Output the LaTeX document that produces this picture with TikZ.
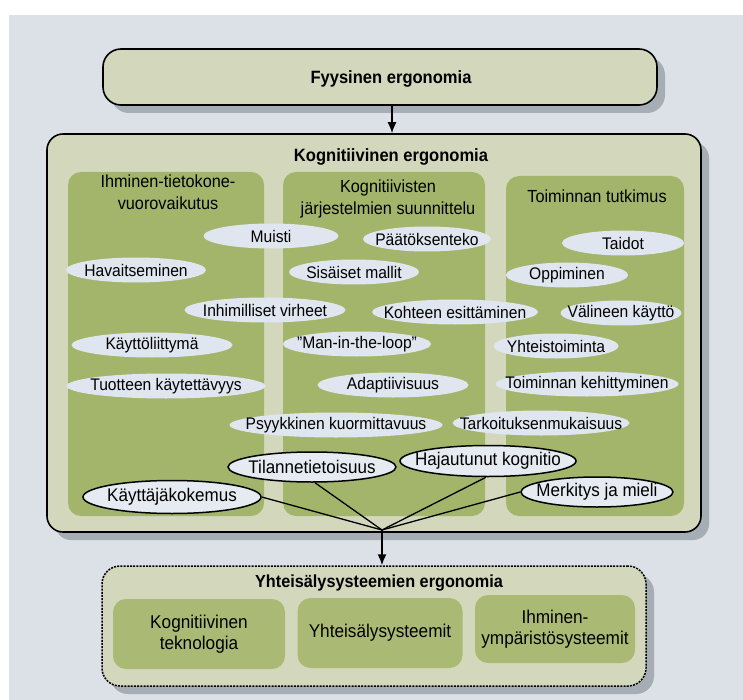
\documentclass[tikz,border=0pt]{standalone}
\usepackage{fontspec}
\setmainfont{Liberation Sans}[FakeStretch=0.93]
\usetikzlibrary{arrows.meta,shapes.geometric,shadows}
\definecolor{paper}{HTML}{DCE1E8}
\definecolor{boxfill}{HTML}{D3D8BC}
\definecolor{colgreen}{HTML}{A3B46B}
\definecolor{innergreen}{HTML}{AABA74}
\definecolor{ellfill}{HTML}{DFE6EF}
\definecolor{ellfilltwo}{HTML}{E6EBF1}
\definecolor{shadowc}{HTML}{A7ADB5}
\begin{document}
\begin{tikzpicture}[x=1pt,y=-1pt,
  outerbox/.style={draw=black, line width=1.6pt, fill=boxfill, rounded corners=18pt,
    drop shadow={shadow xshift=8pt,shadow yshift=-8pt,fill=shadowc,opacity=1}},
  colbox/.style={fill=colgreen, rounded corners=13pt, draw=none, inner sep=0pt},
  innerbox/.style={fill=innergreen, rounded corners=13pt, draw=none, inner sep=0pt, align=center,
    font=\fontsize{18.5}{20.5}\selectfont},
  lightell/.style={ellipse, fill=ellfill, inner xsep=-40pt, inner ysep=-6pt, minimum height=25pt,
    font=\fontsize{16.8}{18}\selectfont},
  darkell/.style={ellipse, fill=ellfilltwo, draw=black, line width=1.5pt, inner xsep=-40pt, inner ysep=-6pt,
    minimum height=31pt, font=\fontsize{18.3}{20}\selectfont},
  titletext/.style={font=\bfseries\fontsize{17.8}{21}\selectfont, inner sep=0pt},
  headtext/.style={align=center, font=\fontsize{17.5}{22}\selectfont, inner sep=0pt},
  arrowline/.style={draw=black, line width=1.5pt, -{Latex[length=11pt,width=9pt]}},
  spoke/.style={draw=black, line width=1.3pt}
]
\useasboundingbox (0,0) rectangle (743,700);
\fill[white] (0,0) rectangle (743,700);
\fill[paper] (9,15) rectangle (743,700);

% Top box
\node[outerbox, minimum width=554pt, minimum height=56pt] (fyys) at (380,77) {};
\node[titletext] (fyyst) at (391,79) {Fyysinen ergonomia};

% Big box
\node[outerbox, rounded corners=16pt, minimum width=654pt, minimum height=398pt] (big) at (374,333) {};
\node[titletext] (bigt) at (391,157) {Kognitiivinen ergonomia};

% Columns
\node[colbox, minimum width=196pt, minimum height=344pt] (col1) at (166,344) {};
\node[colbox, minimum width=202pt, minimum height=344pt] (col2) at (384,344) {};
\node[colbox, minimum width=178pt, minimum height=340pt] (col3) at (595,346) {};

\node[headtext] (h1) at (168,192) {Ihminen-tietokone-\\vuorovaikutus};
\node[headtext] (h2) at (388,199) {Kognitiivisten\\järjestelmien suunnittelu};
\node[headtext] (h3) at (597,196) {Toiminnan tutkimus};

% Light ellipses
\node[lightell, minimum width=135pt] (muisti) at (271,236) {Muisti};
\node[lightell, minimum width=128pt] (paat) at (427,239) {Päätöksenteko};
\node[lightell, minimum width=140pt] (hav) at (136,270) {Havaitseminen};
\node[lightell, minimum width=130pt] (sis) at (354,272) {Sisäiset mallit};
\node[lightell, minimum width=122pt] (taidot) at (623,243) {Taidot};
\node[lightell, minimum width=122pt] (opp) at (567,275) {Oppiminen};
\node[lightell, minimum width=161pt] (inh) at (265,310) {Inhimilliset virheet};
\node[lightell, minimum width=166pt] (koht) at (455,312) {Kohteen esittäminen};
\node[lightell, minimum width=121pt] (val) at (621,313) {Välineen käyttö};
\node[lightell, minimum width=161pt] (kayt) at (152,345) {Käyttöliittymä};
\node[lightell, minimum width=148pt] (man) at (357,344) {\char34 Man-in-the-loop\char34};
\node[lightell, minimum width=125pt] (yht) at (556,346) {Yhteistoiminta};
\node[lightell, minimum width=199pt] (tuot) at (166,386) {Tuotteen käytettävyys};
\node[lightell, minimum width=151pt] (adap) at (393,385) {Adaptiivisuus};
\node[lightell, minimum width=183pt] (toim) at (587,384) {Toiminnan kehittyminen};
\node[lightell, minimum width=213pt] (psyk) at (336,425) {Psyykkinen kuormittavuus};
\node[lightell, minimum width=177pt] (tark) at (541,423) {Tarkoituksenmukaisuus};

% Outlined ellipses
\node[darkell, minimum width=168pt, minimum height=30pt] (tila) at (312,467) {Tilannetietoisuus};
\node[darkell, minimum width=176pt] (haja) at (488,461) {Hajautunut kognitio};
\node[darkell, minimum width=178pt, minimum height=33pt] (kk) at (172,497) {Käyttäjäkokemus};
\node[darkell, minimum width=152pt, minimum height=30pt] (merk) at (597,492) {Merkitys ja mieli};

\coordinate (conv) at (382,530);
\draw[spoke] (kk.east) -- (conv);
\draw[spoke] ([xshift=3pt]tila.south) -- (conv);
\draw[spoke] ([xshift=-2pt]haja.south) -- (conv);
\draw[spoke] (merk.west) -- (conv);

% Bottom box
\node[outerbox, dash pattern=on 2pt off 1.2pt, line width=1.5pt, minimum width=544pt, minimum height=120pt] (yhtb) at (374,626) {};
\node[titletext, font=\bfseries\fontsize{17.5}{20}\selectfont] (yhtt) at (379,583) {Yhteisälysysteemien ergonomia};
\node[innerbox, minimum width=172pt, minimum height=70pt] (b1) at (199,634) {Kognitiivinen\\teknologia};
\node[innerbox, minimum width=165pt, minimum height=70pt] (b2) at (380,633) {Yhteisälysysteemit};
\node[innerbox, minimum width=160pt, minimum height=68pt] (b3) at (555,629) {Ihminen-\\ympäristösysteemit};

% Arrows
\draw[arrowline] ([xshift=12pt]fyys.south) -- ([xshift=12pt]fyys.south |- big.north);
\draw[arrowline] (conv) -- (conv |- yhtb.north);
\end{tikzpicture}
\end{document}
